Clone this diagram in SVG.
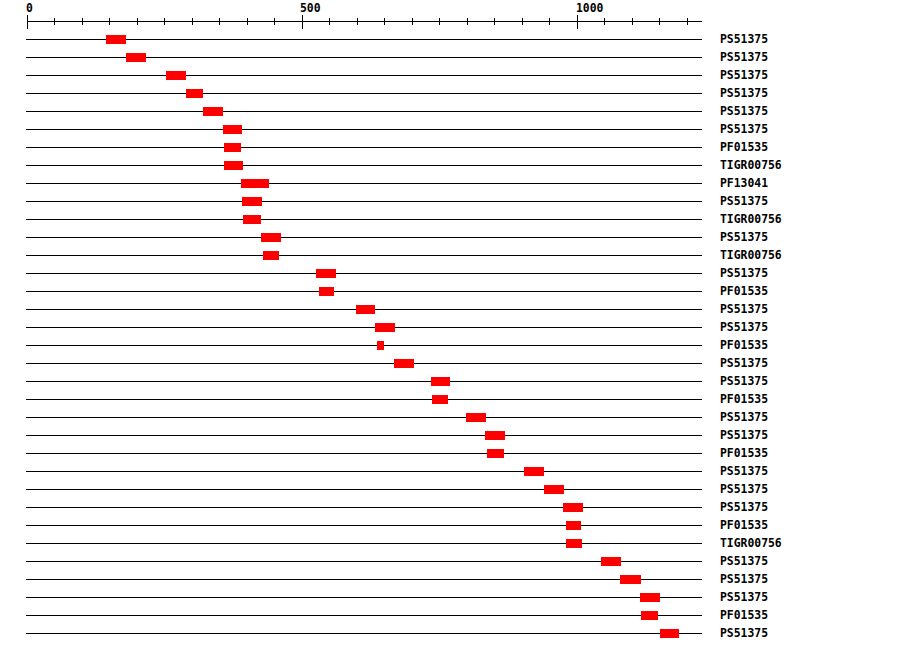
<svg xmlns="http://www.w3.org/2000/svg" width="900" height="652" viewBox="0 0 900 652">
<style>
.ax{stroke:#000;stroke-width:1;shape-rendering:crispEdges;fill:none}
.row{stroke:#000;stroke-width:1;shape-rendering:crispEdges}
.box{fill:#ff0000;shape-rendering:crispEdges}
.lbl{font-family:"DejaVu Sans Mono","Liberation Mono",monospace;font-weight:bold;font-size:11.4px;fill:#000}
.rl{transform:translateY(-1px)}
</style>
<rect width="900" height="652" fill="#fff"/>
<g id="axis">
<line class="ax" x1="27" y1="21.5" x2="702" y2="21.5"/>
<path class="ax" d="M27.5 15V29M302.5 15V29M577.5 15V29M54.5 18V25M82.5 18V25M109.5 18V25M137.5 18V25M164.5 18V25M192.5 18V25M219.5 18V25M247.5 18V25M274.5 18V25M329.5 18V25M357.5 18V25M384.5 18V25M412.5 18V25M439.5 18V25M467.5 18V25M494.5 18V25M522.5 18V25M549.5 18V25M604.5 18V25M632.5 18V25M659.5 18V25M687.5 18V25"/>
<text class="lbl" x="26" y="12">0</text>
<text class="lbl" x="300" y="12">500</text>
<text class="lbl" x="576" y="12">1000</text>
</g>
<g id="connectors">
<path class="row" d="M26 39.5H702M26 57.5H702M26 75.5H702M26 93.5H702M26 111.5H702M26 129.5H702M26 147.5H702M26 165.5H702M26 183.5H702M26 201.5H702M26 219.5H702M26 237.5H702M26 255.5H702M26 273.5H702M26 291.5H702M26 309.5H702M26 327.5H702M26 345.5H702M26 363.5H702M26 381.5H702M26 399.5H702M26 417.5H702M26 435.5H702M26 453.5H702M26 471.5H702M26 489.5H702M26 507.5H702M26 525.5H702M26 543.5H702M26 561.5H702M26 579.5H702M26 597.5H702M26 615.5H702M26 633.5H702"/>
</g>
<g id="r1"><rect class="box" x="106" y="35" width="20" height="9"/><text class="lbl" x="720" y="43">PS51375</text></g>
<g id="r2"><rect class="box" x="126" y="53" width="20" height="9"/><text class="lbl" x="720" y="61">PS51375</text></g>
<g id="r3"><rect class="box" x="166" y="71" width="20" height="9"/><text class="lbl" x="720" y="79">PS51375</text></g>
<g id="r4"><rect class="box" x="186" y="89" width="17" height="9"/><text class="lbl" x="720" y="97">PS51375</text></g>
<g id="r5"><rect class="box" x="203" y="107" width="20" height="9"/><text class="lbl" x="720" y="115">PS51375</text></g>
<g id="r6"><rect class="box" x="223" y="125" width="19" height="9"/><text class="lbl" x="720" y="133">PS51375</text></g>
<g id="r7"><rect class="box" x="224" y="143" width="17" height="9"/><text class="lbl" x="720" y="151">PF01535</text></g>
<g id="r8"><rect class="box" x="224" y="161" width="19" height="9"/><text class="lbl" x="720" y="169">TIGR00756</text></g>
<g id="r9"><rect class="box" x="241" y="179" width="28" height="9"/><text class="lbl" x="720" y="187">PF13041</text></g>
<g id="r10"><rect class="box" x="242" y="197" width="20" height="9"/><text class="lbl" x="720" y="205">PS51375</text></g>
<g id="r11"><rect class="box" x="243" y="215" width="18" height="9"/><text class="lbl" x="720" y="223">TIGR00756</text></g>
<g id="r12"><rect class="box" x="261" y="233" width="20" height="9"/><text class="lbl" x="720" y="241">PS51375</text></g>
<g id="r13"><rect class="box" x="263" y="251" width="16" height="9"/><text class="lbl" x="720" y="259">TIGR00756</text></g>
<g id="r14"><rect class="box" x="316" y="269" width="20" height="9"/><text class="lbl" x="720" y="277">PS51375</text></g>
<g id="r15"><rect class="box" x="319" y="287" width="15" height="9"/><text class="lbl" x="720" y="295">PF01535</text></g>
<g id="r16"><rect class="box" x="356" y="305" width="19" height="9"/><text class="lbl" x="720" y="313">PS51375</text></g>
<g id="r17"><rect class="box" x="375" y="323" width="20" height="9"/><text class="lbl" x="720" y="331">PS51375</text></g>
<g id="r18"><rect class="box" x="377" y="341" width="7" height="9"/><text class="lbl" x="720" y="349">PF01535</text></g>
<g id="r19"><rect class="box" x="394" y="359" width="20" height="9"/><text class="lbl" x="720" y="367">PS51375</text></g>
<g id="r20"><rect class="box" x="431" y="377" width="19" height="9"/><text class="lbl" x="720" y="385">PS51375</text></g>
<g id="r21"><rect class="box" x="432" y="395" width="16" height="9"/><text class="lbl" x="720" y="403">PF01535</text></g>
<g id="r22"><rect class="box" x="466" y="413" width="20" height="9"/><text class="lbl" x="720" y="421">PS51375</text></g>
<g id="r23"><rect class="box" x="485" y="431" width="20" height="9"/><text class="lbl" x="720" y="439">PS51375</text></g>
<g id="r24"><rect class="box" x="487" y="449" width="17" height="9"/><text class="lbl" x="720" y="457">PF01535</text></g>
<g id="r25"><rect class="box" x="524" y="467" width="20" height="9"/><text class="lbl" x="720" y="475">PS51375</text></g>
<g id="r26"><rect class="box" x="544" y="485" width="20" height="9"/><text class="lbl" x="720" y="493">PS51375</text></g>
<g id="r27"><rect class="box" x="563" y="503" width="20" height="9"/><text class="lbl" x="720" y="511">PS51375</text></g>
<g id="r28"><rect class="box" x="566" y="521" width="15" height="9"/><text class="lbl" x="720" y="529">PF01535</text></g>
<g id="r29"><rect class="box" x="566" y="539" width="16" height="9"/><text class="lbl" x="720" y="547">TIGR00756</text></g>
<g id="r30"><rect class="box" x="601" y="557" width="20" height="9"/><text class="lbl" x="720" y="565">PS51375</text></g>
<g id="r31"><rect class="box" x="620" y="575" width="21" height="9"/><text class="lbl" x="720" y="583">PS51375</text></g>
<g id="r32"><rect class="box" x="640" y="593" width="20" height="9"/><text class="lbl" x="720" y="601">PS51375</text></g>
<g id="r33"><rect class="box" x="641" y="611" width="17" height="9"/><text class="lbl" x="720" y="619">PF01535</text></g>
<g id="r34"><rect class="box" x="660" y="629" width="19" height="9"/><text class="lbl" x="720" y="637">PS51375</text></g>
</svg>
